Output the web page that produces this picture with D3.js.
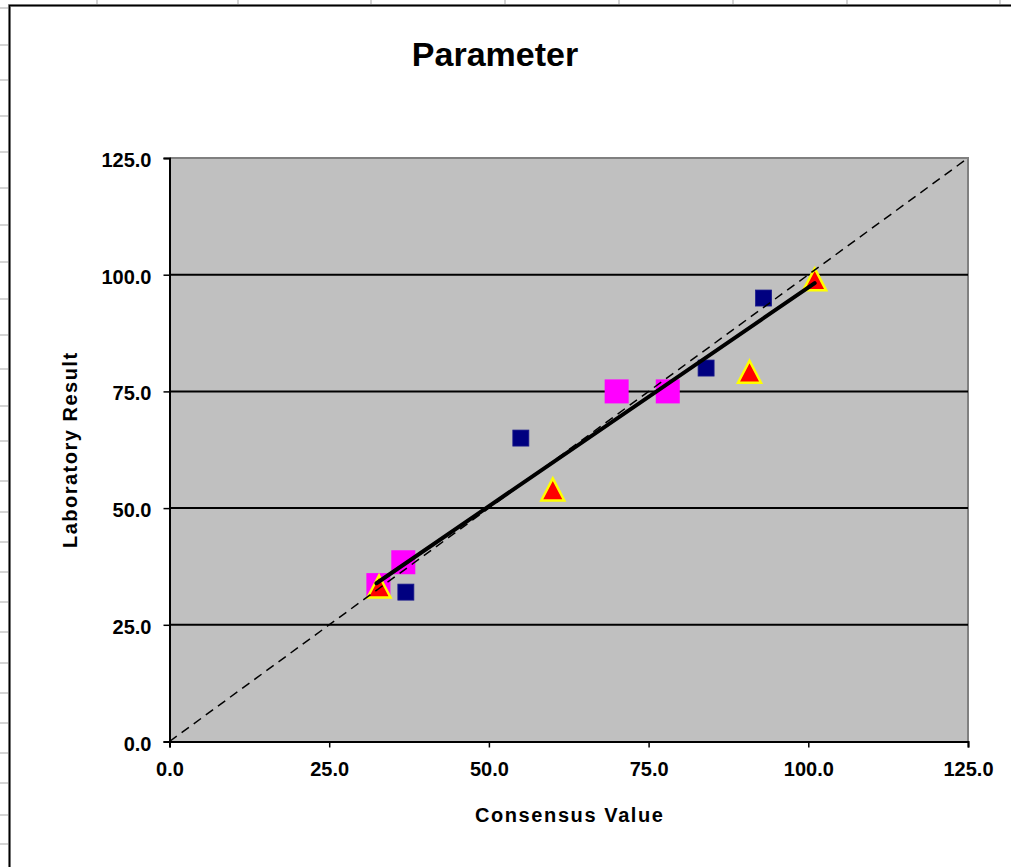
<!DOCTYPE html>
<html>
<head>
<meta charset="utf-8">
<script src="https://cdn.jsdelivr.net/npm/d3@7"></script>
<style>
  html, body { margin: 0; padding: 0; background: #fff; }
  svg { display: block; }
  text { font-family: "Liberation Sans", Arial, sans-serif; font-weight: bold; fill: #000; }
</style>
</head>
<body>
<svg id="chart" width="1011" height="867"></svg>
<script>
// Laboratory results against consensus values, three groups of labs
const chartTitle = "Parameter";
const xTitle = "Consensus Value";
const yTitle = "Laboratory Result";
const tickValues = [0, 25, 50, 75, 100, 125];
const axisMax = 125;

// group A: small navy squares
const groupA = [
  { x: 37, y: 32 },
  { x: 55, y: 65 },
  { x: 84, y: 80 },
  { x: 93, y: 95 }
];
// group B: large magenta squares
const groupB = [
  { x: 32.7, y: 33.5 },
  { x: 36.6, y: 38.4 },
  { x: 70, y: 75 },
  { x: 78, y: 75 }
];
// group C: red triangles
const groupC = [
  { x: 32.8, y: 33.2 },
  { x: 60, y: 54 },
  { x: 90.8, y: 79.2 },
  { x: 101, y: 99 }
];
// fitted line through the results
const fitLine = [
  { x: 32.4, y: 33.9 },
  { x: 101, y: 98.2 }
];
// line of identity
const identityLine = [
  { x: 0, y: 0 },
  { x: 125, y: 125 }
];

const svg = d3.select("#chart");

// worksheet cells behind the chart object
const colLines = [97, 238, 371, 505, 619, 733, 847, 1000];
const rowLines = [8, 45, 80, 116, 152, 188, 225, 262, 299, 335, 369, 406, 441,
                  481, 512, 542, 572, 602, 632, 663, 693, 723, 753, 783, 815, 844];
svg.selectAll("line.col").data(colLines).join("line")
  .attr("x1", d => d).attr("x2", d => d).attr("y1", 0).attr("y2", 5)
  .attr("stroke", "#d4d4d4").attr("stroke-width", 2);
svg.selectAll("line.row").data(rowLines).join("line")
  .attr("x1", 0).attr("x2", 8).attr("y1", d => d).attr("y2", d => d)
  .attr("stroke", "#d4d4d4").attr("stroke-width", 2);

// chart object frame
svg.append("path")
  .attr("d", "M9.5,867 L9.5,5.5 L1011,5.5")
  .attr("fill", "none").attr("stroke", "#9a9a9a").attr("stroke-width", 3);
svg.append("path")
  .attr("d", "M9.5,867 L9.5,5.5 L1011,5.5")
  .attr("fill", "none").attr("stroke", "#000").attr("stroke-width", 1.5);

const plot = { left: 169.5, right: 968, top: 158, bottom: 741.5 };

const x = d3.scaleLinear().domain([0, axisMax]).range([plot.left, plot.right]);
const y = d3.scaleLinear().domain([0, axisMax]).range([plot.bottom, plot.top]);

// plot area
svg.append("rect")
  .attr("x", plot.left).attr("y", plot.top)
  .attr("width", plot.right - plot.left).attr("height", plot.bottom - plot.top)
  .attr("fill", "#c0c0c0");
svg.append("path")
  .attr("d", `M${plot.left},${plot.top} L${plot.right},${plot.top} L${plot.right},${plot.bottom}`)
  .attr("fill", "none").attr("stroke", "#808080").attr("stroke-width", 2);

// horizontal gridlines
svg.append("g").selectAll("line")
  .data(tickValues.filter(v => v > 0 && v < axisMax))
  .join("line")
  .attr("x1", plot.left).attr("x2", plot.right)
  .attr("y1", d => y(d)).attr("y2", d => y(d))
  .attr("stroke", "#000").attr("stroke-width", 2);

const fmt = d3.format(".1f");

// axes
const gx = svg.append("g")
  .attr("transform", `translate(0,${plot.bottom})`)
  .call(d3.axisBottom(x).tickValues(tickValues).tickFormat(fmt).tickSize(6));
const gy = svg.append("g")
  .attr("transform", `translate(${plot.left},0)`)
  .call(d3.axisLeft(y).tickValues(tickValues).tickFormat(fmt).tickSize(6));

[gx, gy].forEach(g => {
  g.select(".domain").attr("stroke", "#000").attr("stroke-width", 2);
  g.selectAll(".tick line").attr("stroke", "#000").attr("stroke-width", 1.5);
  g.selectAll(".tick text")
    .attr("font-family", "'Liberation Sans', Arial, sans-serif")
    .attr("font-weight", "bold").attr("font-size", 20).attr("fill", "#000");
});
gx.selectAll(".tick text").attr("dy", null).attr("y", 34);
gy.selectAll(".tick text").attr("dy", null).attr("x", -18).attr("y", 8.5);

// markers
const halfA = 8;
svg.append("g").selectAll("rect")
  .data(groupA).join("rect")
  .attr("x", d => x(d.x) - halfA).attr("y", d => y(d.y) - halfA)
  .attr("width", halfA * 2).attr("height", halfA * 2)
  .attr("fill", "#000080").attr("stroke", "#1a1a8c").attr("stroke-width", 0.8);

const halfB = 12;
svg.append("g").selectAll("rect")
  .data(groupB).join("rect")
  .attr("x", d => x(d.x) - halfB).attr("y", d => y(d.y) - halfB)
  .attr("width", halfB * 2).attr("height", halfB * 2)
  .attr("fill", "#ff00ff");

const triW = 23, triH = 22;
svg.append("g").selectAll("path")
  .data(groupC).join("path")
  .attr("d", d => {
    const cx = x(d.x), cy = y(d.y);
    return `M${cx},${cy - triH / 2} L${cx + triW / 2},${cy + triH / 2} L${cx - triW / 2},${cy + triH / 2} Z`;
  })
  .attr("fill", "#ff0000").attr("stroke", "#ffff00").attr("stroke-width", 2.5)
  .attr("stroke-linejoin", "miter");

const line = d3.line().x(d => x(d.x)).y(d => y(d.y));

svg.append("path").datum(identityLine)
  .attr("d", line)
  .attr("fill", "none").attr("stroke", "#000").attr("stroke-width", 1.5)
  .attr("stroke-dasharray", "9,6");

svg.append("path").datum(fitLine)
  .attr("d", line)
  .attr("fill", "none").attr("stroke", "#000").attr("stroke-width", 4)
  .attr("stroke-linecap", "round");

// titles
svg.append("text")
  .attr("x", 495).attr("y", 66)
  .attr("text-anchor", "middle").attr("font-size", 34)
  .text(chartTitle);

svg.append("text")
  .attr("x", (plot.left + plot.right) / 2 + 1).attr("y", 822)
  .attr("text-anchor", "middle").attr("font-size", 20)
  .attr("letter-spacing", 1.6)
  .text(xTitle);

svg.append("text")
  .attr("transform", `translate(77,${(plot.top + plot.bottom) / 2}) rotate(-90)`)
  .attr("text-anchor", "middle").attr("font-size", 20)
  .attr("letter-spacing", 1.5)
  .text(yTitle);
</script>
</body>
</html>
